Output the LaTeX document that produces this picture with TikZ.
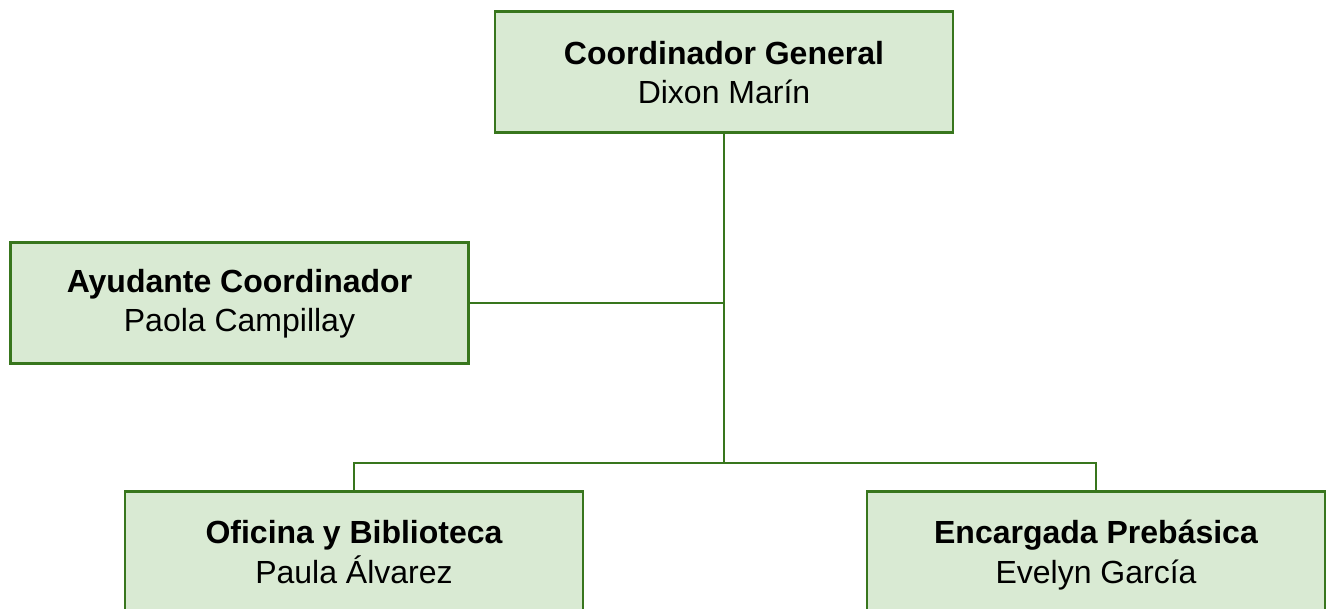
\documentclass[tikz,border=0pt]{standalone}
\usepackage{fontspec}
\setmainfont{Liberation Sans}
\definecolor{boxfill}{HTML}{D9EAD3}
\definecolor{boxline}{HTML}{38761D}
\begin{document}
\begin{tikzpicture}[x=1pt,y=-1pt,
  orgbox/.style={draw=boxline,fill=boxfill,line width=2.6pt,rectangle,minimum width=458pt,minimum height=121pt,inner sep=0pt},
  link/.style={draw=boxline,line width=2.4pt},
  titletext/.style={anchor=base,font=\fontsize{32}{38}\selectfont\bfseries},
  nametext/.style={anchor=base,font=\fontsize{32}{38}\selectfont}]
\clip (0,0) rectangle (1330,609);
\fill[white] (0,0) rectangle (1330,609);
\node[orgbox] (coord) at (724,72) {};
\node[orgbox] (ayud) at (239.5,303) {};
\node[orgbox] (ofic) at (354,552) {};
\node[orgbox] (enca) at (1096,552) {};
\coordinate (j1) at (724,303);
\coordinate (j2) at (724,463);
\draw[link] (coord.south) -- (j2);
\draw[link] (ayud.east) -- (j1);
\draw[link] (ofic.north) |- (j2) -| (enca.north);
\node[titletext] (t1) at ([yshift=7pt]coord.center) {Coordinador General};
\node[nametext] (n1) at ([yshift=-32pt]coord.center) {Dixon Marín};
\node[titletext] (t2) at ([yshift=10pt]ayud.center) {Ayudante Coordinador};
\node[nametext] (n2) at ([yshift=-29pt]ayud.center) {Paola Campillay};
\node[titletext] (t3) at ([yshift=9pt]ofic.center) {Oficina y Biblioteca};
\node[nametext] (n3) at ([yshift=-31pt]ofic.center) {Paula Álvarez};
\node[titletext] (t4) at ([yshift=9pt]enca.center) {Encargada Prebásica};
\node[nametext] (n4) at ([yshift=-31pt]enca.center) {Evelyn García};
\end{tikzpicture}
\end{document}
